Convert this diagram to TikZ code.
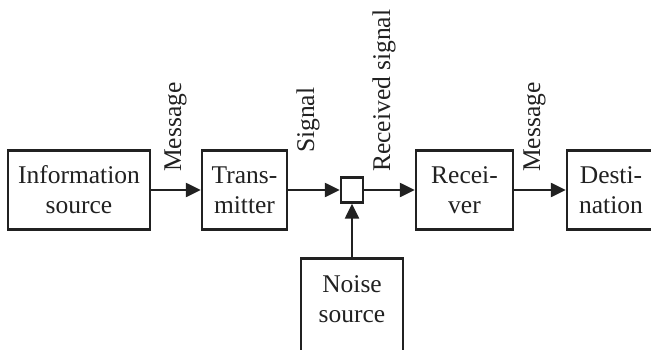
\documentclass[tikz,border=0pt]{standalone}
\usepackage{fontspec}
\setmainfont{Liberation Serif}
\usetikzlibrary{arrows.meta}
\definecolor{ink}{gray}{0.13}
\begin{document}
\begin{tikzpicture}[x=1pt,y=1pt,
  every node/.style={text=ink},
  blk/.style={draw=ink,line width=2.4pt,align=center,inner sep=0pt,
    minimum height=79pt,font=\fontsize{25.5}{30}\selectfont},
  lbl/.style={rotate=90,anchor=base west,inner sep=0pt,font=\fontsize{25.5}{30}\selectfont},
  arr/.style={draw=ink,line width=2.4pt,-{Triangle[length=15pt,width=14pt]}}]
\useasboundingbox (0,0) rectangle (651,349);
\fill[white] (0,0) rectangle (651,349);
\node[blk,minimum width=142pt] (info) at (79,159) {Information\\source};
\node[blk,minimum width=85pt] (trans) at (244.5,159) {Trans-\\mitter};
\node[draw=ink,line width=2.4pt,minimum width=22pt,minimum height=25pt,inner sep=0pt] (sq) at (352,159) {};
\node[blk,minimum width=97pt] (recv) at (464.5,159) {Recei-\\ver};
\node[blk,minimum width=88pt] (dest) at (611,159) {Desti-\\nation};
\node[blk,draw=none,minimum width=100pt] (noise) at (352,50) {Noise\\source};
\draw[draw=ink,line width=2.4pt] ([yshift=-30pt]noise.south west) -- (noise.north west) -- (noise.north east) -- ([yshift=-30pt]noise.south east);
\draw[arr] (info) -- (trans);
\draw[arr] (trans) -- (sq);
\draw[arr] (sq) -- (recv);
\draw[arr] (recv) -- (dest);
\draw[arr] (sq.south |- noise.north) -- (sq.south);
\node[lbl] (m1) at (181,177) {Message};
\node[lbl] (sig) at (314,196) {Signal};
\node[lbl] (rs) at (390,177) {Received signal};
\node[lbl] (m2) at (540,177) {Message};
\end{tikzpicture}
\end{document}
